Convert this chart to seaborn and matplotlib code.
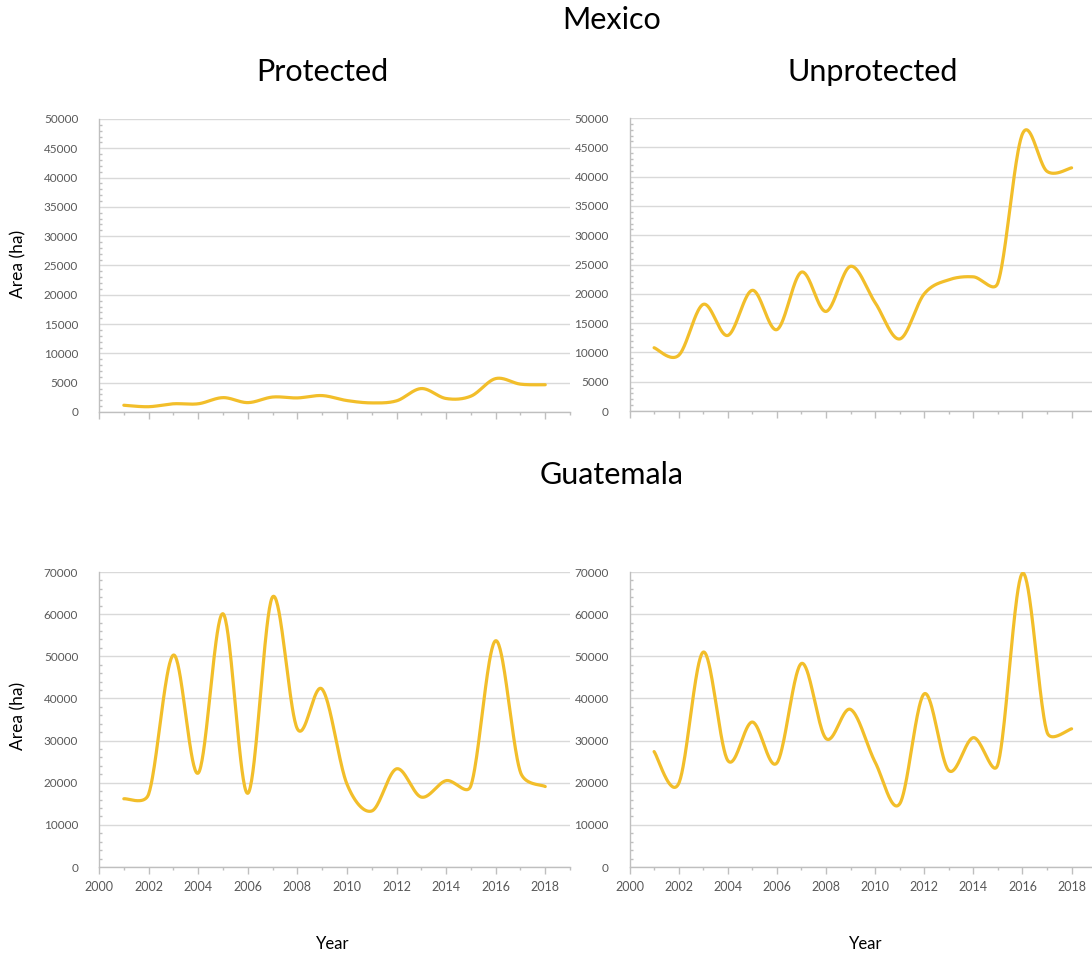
import numpy as np
import pandas as pd
import matplotlib
matplotlib.use("Agg")
import matplotlib.pyplot as plt
from matplotlib.ticker import MultipleLocator
import seaborn as sns

# deforested area per year (ha)
years = list(range(2001, 2019))
mex_protected = [1150, 900, 1400, 1400, 2450, 1600, 2550, 2400, 2800, 1950,
                 1550, 1900, 4000, 2300, 2700, 5700, 4750, 4650]
mex_unprotected = [10800, 9500, 18200, 12900, 20600, 13900, 23700, 17000, 24700, 18500,
                   12300, 20000, 22400, 22900, 21900, 47300, 40900, 41500]
gua_protected = [16200, 17300, 50300, 22300, 60100, 17500, 64100, 32800, 42200, 19700,
                 13300, 23300, 16600, 20500, 19300, 53700, 22500, 19100]
gua_unprotected = [27400, 19800, 51000, 25300, 34400, 24700, 48300, 30500, 37400, 24900,
                   15000, 41100, 22900, 30700, 24400, 69700, 32000, 32800]

LINE = "#F2BE2A"
GRID = "#D9D9D9"
AXIS = "#BFBFBF"
TXT = "#595959"
W, H = 1092, 955


def smooth(x, y, sx, sy, n=40):
    # Excel-style smoothed line: bezier with catmull-rom control points,
    # control arms capped at half the segment length (measured in pixels)
    p = np.column_stack([np.asarray(x, float) * sx, np.asarray(y, float) * sy])
    p = np.vstack([p[0], p, p[-1]])
    t = np.linspace(0, 1, n)[1:, None]
    out = [p[1]]
    for i in range(1, len(p) - 2):
        p0, p1, p2, p3 = p[i - 1], p[i], p[i + 1], p[i + 2]
        d12 = np.linalg.norm(p2 - p1)
        d02 = np.linalg.norm(p2 - p0)
        d13 = np.linalg.norm(p3 - p1)
        f1 = 1 / 6 if d02 / 6 < d12 / 2 else d12 / (2 * d02)
        f2 = 1 / 6 if d13 / 6 < d12 / 2 else d12 / (2 * d13)
        c1 = p1 + f1 * (p2 - p0)
        c2 = p2 - f2 * (p3 - p1)
        b = (1 - t) ** 3 * p1 + 3 * (1 - t) ** 2 * t * c1 + 3 * (1 - t) * t ** 2 * c2 + t ** 3 * p2
        out.extend(b)
    out = np.array(out)
    return pd.DataFrame({"year": out[:, 0] / sx, "area": out[:, 1] / sy})


sns.set_theme(style="white")
plt.rcParams['font.family'] = ['Lato', 'DejaVu Sans']

fig = plt.figure(figsize=(W / 100, H / 100), dpi=100)

panels = [
    (mex_protected, [0.0907, 0.5686, 0.4313, 0.3068], 50000, 5000, False),
    (mex_unprotected, [0.5765, 0.5696, 0.4273, 0.3068], 50000, 5000, False),
    (gua_protected, [0.0907, 0.0921, 0.4313, 0.3089], 70000, 10000, True),
    (gua_unprotected, [0.5765, 0.0921, 0.4273, 0.3089], 70000, 10000, True),
]

for vals, rect, ymax, ystep, show_x in panels:
    ax = fig.add_axes(rect)
    sx = rect[2] * W / 19.0
    sy = rect[3] * H / ymax
    df = smooth(years, vals, sx, sy)
    sns.lineplot(data=df, x="year", y="area", ax=ax, color=LINE, lw=2.3,
                 estimator=None, sort=False)
    ax.set_xlim(2000, 2019)
    ax.set_ylim(0, ymax)
    ax.xaxis.set_major_locator(MultipleLocator(2))
    ax.xaxis.set_minor_locator(MultipleLocator(1))
    ax.yaxis.set_major_locator(MultipleLocator(ystep))
    ax.yaxis.set_minor_locator(MultipleLocator(ystep / 5))
    ax.set_xticks(range(2000, 2019, 2))
    ax.grid(axis="y", color=GRID, lw=1)
    ax.set_axisbelow(True)
    for s in ["top", "right"]:
        ax.spines[s].set_visible(False)
    for s in ["left", "bottom"]:
        ax.spines[s].set_color(AXIS)
        ax.spines[s].set_linewidth(1)
    ax.tick_params(axis="x", which="major", bottom=True, direction="out", length=5, width=1,
                   color=AXIS, labelsize=9, labelcolor=TXT, pad=5,
                   labelbottom=show_x)
    ax.tick_params(axis="x", which="minor", bottom=True, direction="out", length=2.5,
                   width=1, color=AXIS)
    ax.tick_params(axis="y", which="major", left=False, labelsize=8.5, labelcolor=TXT, pad=9)
    ax.tick_params(axis="y", which="minor", left=True, direction="in", length=2.5,
                   width=1, color=AXIS)
    ax.set_xlabel("")
    ax.set_ylabel("")

fig.text(612 / W, 1 - 20 / H, "Mexico", ha="center", va="center", fontsize=22, color="black")
fig.text(322 / W, 1 - 72 / H, "Protected", ha="center", va="center", fontsize=22, color="black")
fig.text(873 / W, 1 - 72 / H, "Unprotected", ha="center", va="center", fontsize=22, color="black")
fig.text(612 / W, 1 - 475 / H, "Guatemala", ha="center", va="center", fontsize=22, color="black")
fig.text(18 / W, 1 - 264 / H, "Area (ha)", ha="center", va="center",
         rotation=90, fontsize=12.5, color="black")
fig.text(18 / W, 1 - 716 / H, "Area (ha)", ha="center", va="center",
         rotation=90, fontsize=12.5, color="black")
fig.text(333 / W, 1 - 944 / H, "Year", ha="center", va="center", fontsize=12, color="black")
fig.text(866 / W, 1 - 944 / H, "Year", ha="center", va="center", fontsize=12, color="black")

fig.savefig("out.png", dpi=100)
